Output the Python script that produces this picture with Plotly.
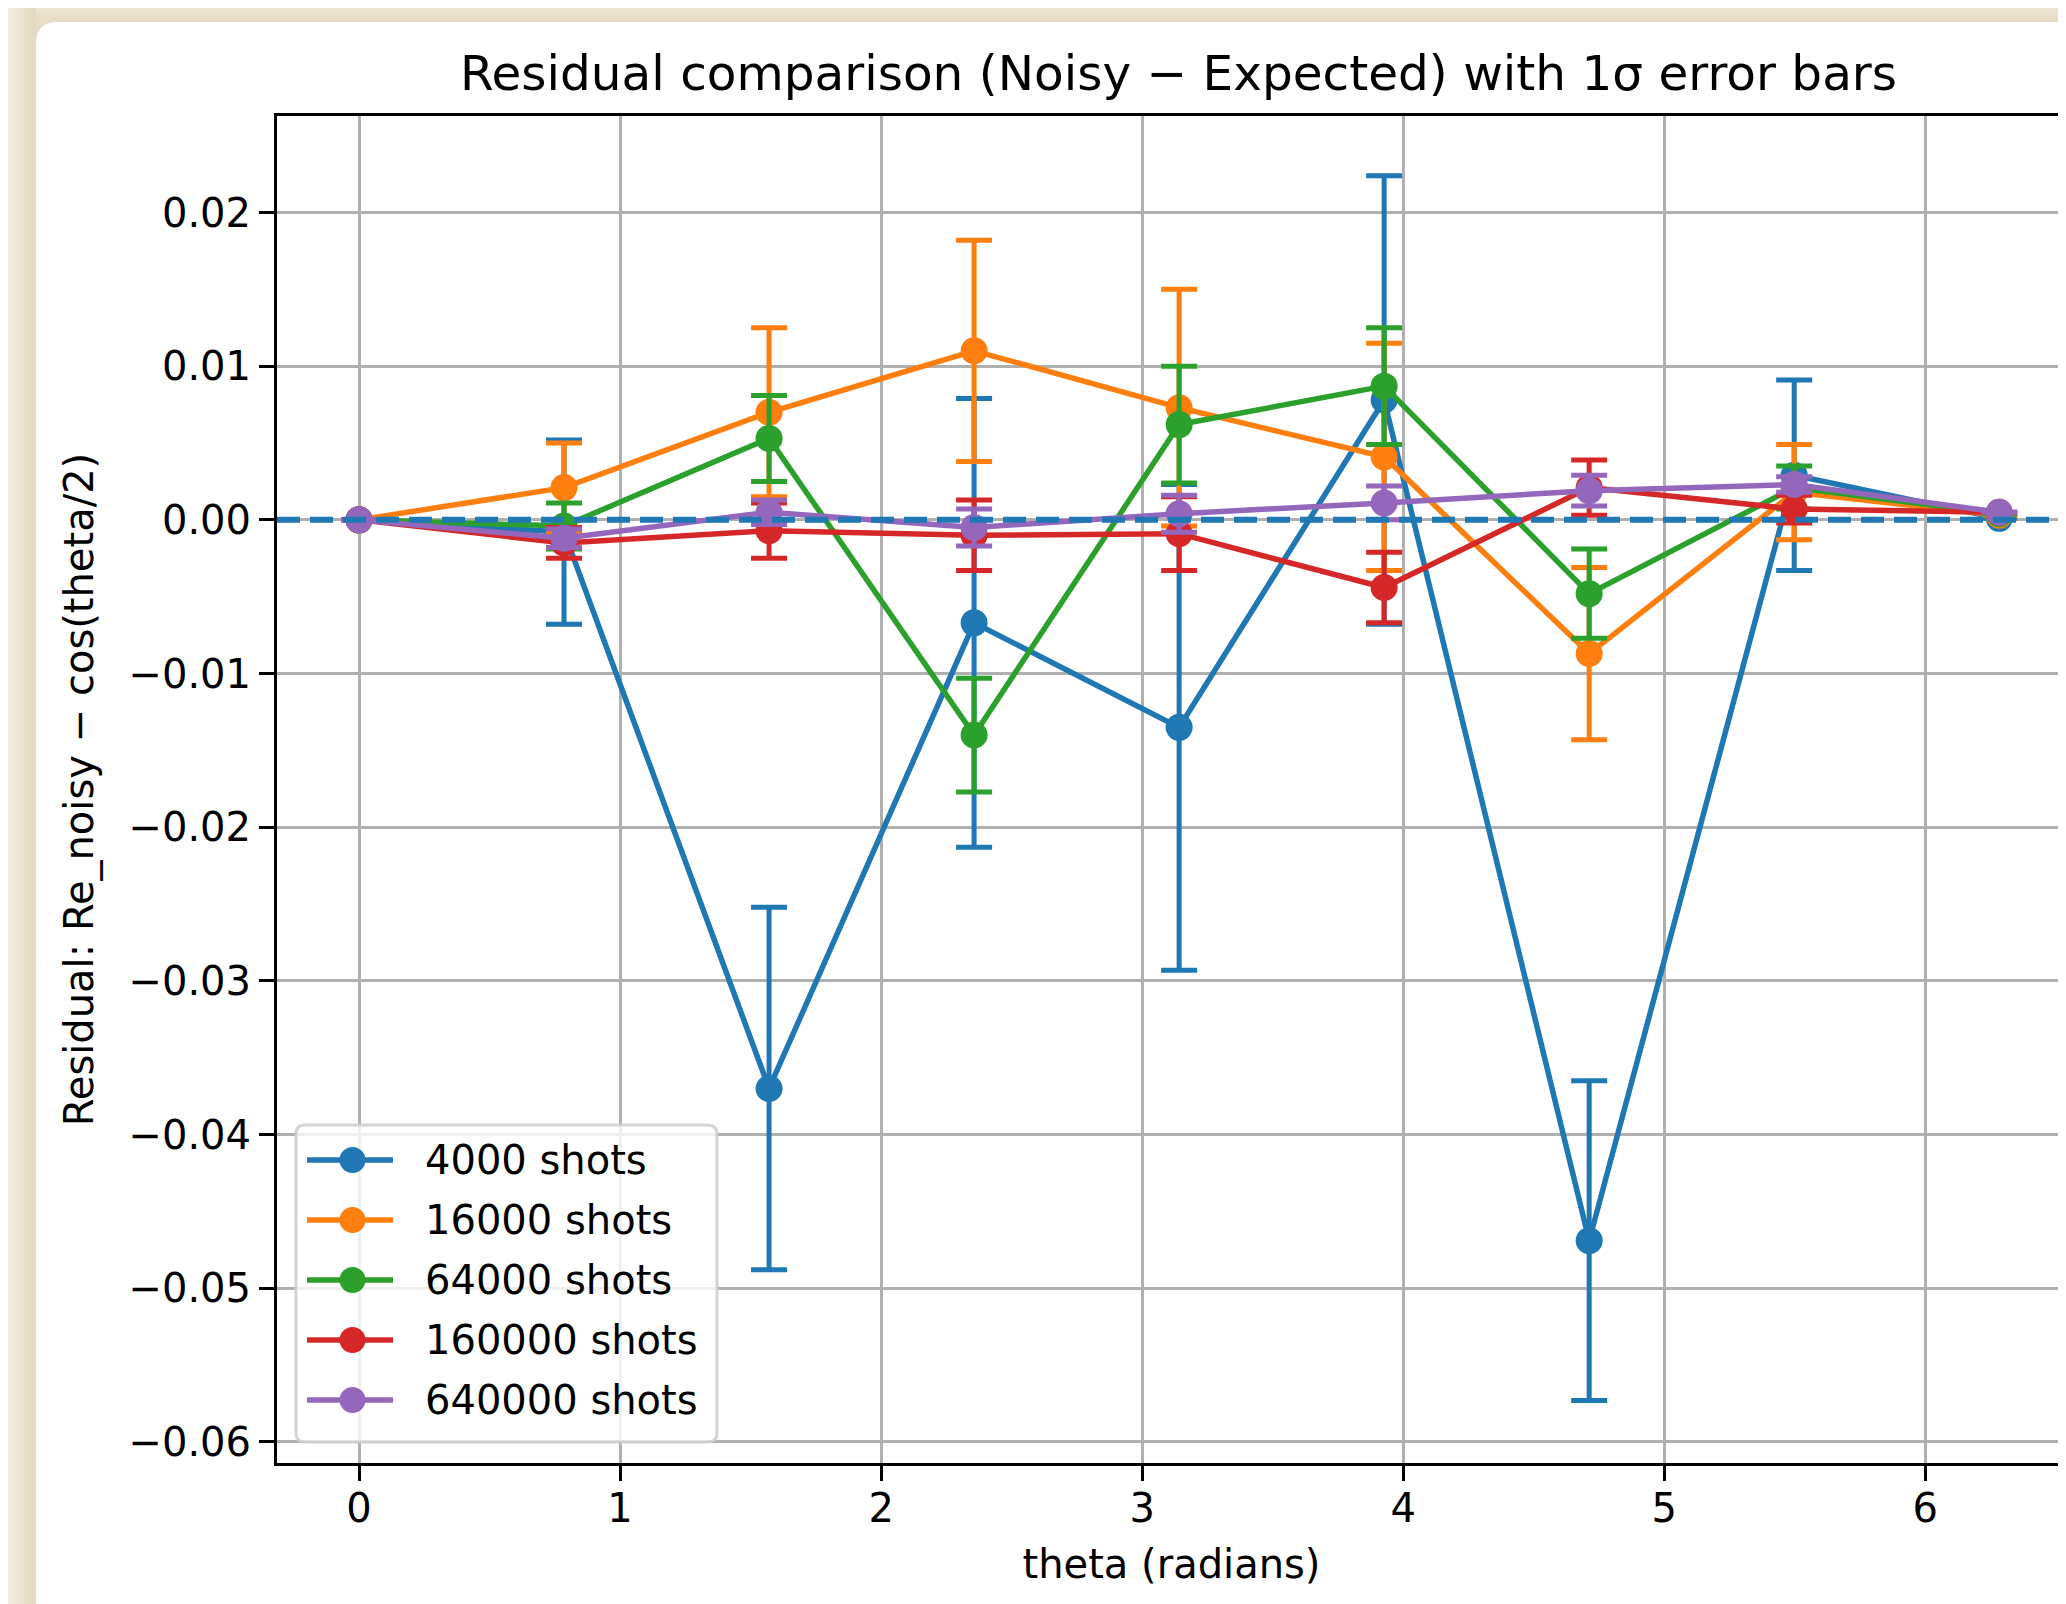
import plotly.graph_objects as go

# ---------------- data ----------------
THETA = [0.0, 0.7854, 1.5708, 2.3562, 3.1416, 3.9270, 4.7124, 5.4978, 6.2832]

SHOT_LABELS = ["4000 shots", "16000 shots", "64000 shots", "160000 shots", "640000 shots"]

RES_4000 = [0.0, -0.0008, -0.0370, -0.0067, -0.0135, 0.0078, -0.0469, 0.0029, 0.0001]
ERR_4000 = [0.0, 0.0060, 0.0118, 0.0146, 0.0158, 0.0146, 0.0104, 0.0062, 0.0]

RES_16000 = [0.0, 0.0021, 0.0070, 0.0110, 0.0073, 0.0041, -0.0087, 0.0018, 0.0003]
ERR_16000 = [0.0, 0.0029, 0.0055, 0.0072, 0.0077, 0.0074, 0.0056, 0.0031, 0.0]

RES_64000 = [0.0, -0.0004, 0.0053, -0.0140, 0.0062, 0.0087, -0.0048, 0.0021, 0.0004]
ERR_64000 = [0.0, 0.0015, 0.0028, 0.0037, 0.0038, 0.0038, 0.0029, 0.0014, 0.0]

RES_160000 = [0.0, -0.0015, -0.0007, -0.0010, -0.0009, -0.0044, 0.0021, 0.0007, 0.0005]
ERR_160000 = [0.0, 0.0010, 0.0018, 0.0023, 0.0024, 0.0023, 0.0018, 0.0009, 0.0]

RES_640000 = [0.0, -0.0012, 0.0005, -0.0005, 0.0004, 0.0011, 0.0019, 0.0023, 0.0005]
ERR_640000 = [0.0, 0.0006, 0.0008, 0.0012, 0.0012, 0.0011, 0.0010, 0.0005, 0.0]

REFERENCE_LEVEL = 0.0

X_TICKS = [0, 1, 2, 3, 4, 5, 6]
X_TICK_LABELS = ["0", "1", "2", "3", "4", "5", "6"]
Y_TICKS = [0.02, 0.01, 0.0, -0.01, -0.02, -0.03, -0.04, -0.05, -0.06]
Y_TICK_LABELS = ["0.02", "0.01", "0.00", "\u22120.01", "\u22120.02", "\u22120.03",
                 "\u22120.04", "\u22120.05", "\u22120.06"]

COLORS = ["#1f77b4", "#ff7f0e", "#2ca02c", "#d62728", "#9467bd"]

TITLE = "Residual comparison (Noisy \u2212 Expected) with 1\u03c3 error bars"
X_LABEL = "theta (radians)"
Y_LABEL = "Residual: Re_noisy \u2212 cos(theta/2)"

# ---------------- layout geometry ----------------
# The page body adds an 8px margin, so the figure starts at screen (8, 8).
OFF = 8
SCREEN_W, SCREEN_H = 2066, 1604
W, H = SCREEN_W - OFF, SCREEN_H - OFF
# plot area in screen pixels: x 277 -> 2066, y 116 -> 1463
ML, MR, MT = 277 - OFF, 0, 116 - OFF
MB = H - (1463 - OFF)
PW = W - ML - MR
PH = H - MT - MB
FONT = "DejaVu Sans"


def pxx(px):
    """screen pixel x -> paper fraction"""
    return (px - OFF - ML) / PW


def pyy(py):
    """screen pixel y -> paper fraction"""
    return (H - MB - (py - OFF)) / PH


def rrect_path(x0, y0, x1, y1, r):
    def P(x, y):
        return f"{pxx(x):.6f},{pyy(y):.6f}"
    pts = ["M " + P(x0 + r, y0),
           "L " + P(x1 - r, y0),
           "Q " + P(x1, y0) + " " + P(x1, y0 + r),
           "L " + P(x1, y1 - r),
           "Q " + P(x1, y1) + " " + P(x1 - r, y1),
           "L " + P(x0 + r, y1),
           "Q " + P(x0, y1) + " " + P(x0, y1 - r),
           "L " + P(x0, y0 + r),
           "Q " + P(x0, y0) + " " + P(x0 + r, y0),
           "Z"]
    return " ".join(pts)


def lerp_color(c0, c1, t):
    a = [int(c0[i:i + 2], 16) for i in (1, 3, 5)]
    b = [int(c1[i:i + 2], 16) for i in (1, 3, 5)]
    return "rgb(%d,%d,%d)" % tuple(round(a[k] + (b[k] - a[k]) * t) for k in range(3))


fig = go.Figure()

series = [
    (SHOT_LABELS[0], RES_4000, ERR_4000),
    (SHOT_LABELS[1], RES_16000, ERR_16000),
    (SHOT_LABELS[2], RES_64000, ERR_64000),
    (SHOT_LABELS[3], RES_160000, ERR_160000),
    (SHOT_LABELS[4], RES_640000, ERR_640000),
]

for (name, vals, errs), color in zip(series, COLORS):
    fig.add_trace(go.Scatter(
        x=THETA, y=vals, name=name, mode="lines+markers",
        line=dict(color=color, width=5.5),
        marker=dict(color=color, size=27, line=dict(width=0)),
        error_y=dict(type="data", array=errs, visible=True, color=color,
                     thickness=5, width=18),
        showlegend=False,
    ))

shapes = []
annotations = []

# ---- beige frame around the figure (screenshot border) ----
BEIGE = "#E7DDC6"
n_top = 5
for i in range(n_top):
    y0 = OFF + (22 - OFF) * i / n_top
    y1 = OFF + (22 - OFF) * (i + 1) / n_top
    shapes.append(dict(type="rect", xref="paper", yref="paper",
                       x0=pxx(OFF - 2), x1=pxx(SCREEN_W + 5),
                       y0=pyy(y0 - (2 if i == 0 else 0)), y1=pyy(y1),
                       fillcolor=lerp_color("#EEE7D6", "#E5DAC1", (i + 0.5) / n_top),
                       line=dict(width=0), layer="below"))
n_left = 7
for i in range(n_left):
    x0 = OFF + (36 - OFF) * i / n_left
    x1 = OFF + (36 - OFF) * (i + 1) / n_left
    shapes.append(dict(type="rect", xref="paper", yref="paper",
                       x0=pxx(x0 - (2 if i == 0 else 0)), x1=pxx(x1),
                       y0=pyy(OFF - 2), y1=pyy(SCREEN_H + 5),
                       fillcolor=lerp_color("#F3EEE2", "#E3D8BE", (i + 0.5) / n_left),
                       line=dict(width=0), layer="below"))
shapes.append(dict(type="path", xref="paper", yref="paper",
                   path=rrect_path(36, 22, SCREEN_W + 40, SCREEN_H + 40, 22),
                   fillcolor="white", line=dict(width=0), layer="below"))

# ---- dashed reference line at zero (drawn over the series) ----
shapes.append(dict(type="line", xref="paper", yref="y", x0=0, x1=1,
                   y0=REFERENCE_LEVEL, y1=REFERENCE_LEVEL,
                   line=dict(color=COLORS[0], width=6, dash="23px,10px"), layer="above"))

# ---- legend (matplotlib-style, lower left) ----
LEG_X0, LEG_X1, LEG_Y0, LEG_Y1 = 296, 717, 1125, 1442
shapes.append(dict(type="path", xref="paper", yref="paper",
                   path=rrect_path(LEG_X0, LEG_Y0, LEG_X1, LEG_Y1, 9),
                   fillcolor="rgba(255,255,255,0.8)",
                   line=dict(color="rgba(204,204,204,0.85)", width=3), layer="above"))
ROW0, ROW_STEP = 1160, 60
for i, (name, color) in enumerate(zip(SHOT_LABELS, COLORS)):
    cy = ROW0 + ROW_STEP * i
    shapes.append(dict(type="line", xref="paper", yref="paper",
                       x0=pxx(307), x1=pxx(393), y0=pyy(cy), y1=pyy(cy),
                       line=dict(color=color, width=5.5), layer="above"))
    shapes.append(dict(type="circle", xref="paper", yref="paper",
                       xsizemode="pixel", ysizemode="pixel",
                       xanchor=pxx(352.5), yanchor=pyy(cy),
                       x0=-13, x1=13, y0=-13, y1=13,
                       fillcolor=color, line=dict(width=0), layer="above"))
    annotations.append(dict(xref="paper", yref="paper", x=pxx(423), y=pyy(cy),
                            xanchor="left", yanchor="middle", showarrow=False,
                            text=name, font=dict(family=FONT, size=40, color="black")))

fig.update_layout(
    width=W, height=H,
    margin=dict(l=ML, r=MR, t=MT, b=MB, pad=0),
    paper_bgcolor=BEIGE,
    plot_bgcolor="white",
    font=dict(family=FONT, color="black", size=40),
    title=dict(text=TITLE, x=(1178.5 - OFF) / W, xref="container", xanchor="center",
               y=1 - (73 - OFF) / H, yref="container", yanchor="middle",
               font=dict(family=FONT, size=48.5, color="black")),
    shapes=shapes,
    annotations=annotations,
    showlegend=False,
)

fig.update_xaxes(
    range=[-0.31416, 6.539],
    tickmode="array", tickvals=X_TICKS, ticktext=X_TICK_LABELS,
    showgrid=True, gridcolor="#b0b0b0", gridwidth=3,
    zeroline=False,
    showline=True, linecolor="black", linewidth=3, mirror=True,
    ticks="outside", ticklen=15, tickwidth=3, tickcolor="black",
    ticklabelstandoff=-7,
    tickfont=dict(family=FONT, size=40, color="black"),
    title=dict(text=X_LABEL, font=dict(family=FONT, size=40, color="black"), standoff=20),
)
fig.update_yaxes(
    range=[-0.06137, 0.02628],
    tickmode="array", tickvals=Y_TICKS, ticktext=Y_TICK_LABELS,
    showgrid=True, gridcolor="#b0b0b0", gridwidth=3,
    zeroline=False,
    showline=True, linecolor="black", linewidth=3, mirror=False,
    ticks="outside", ticklen=15, tickwidth=3, tickcolor="black",
    tickfont=dict(family=FONT, size=40, color="black"),
    title=dict(text=Y_LABEL, font=dict(family=FONT, size=40, color="black"), standoff=23),
)

fig.write_html("out.html")
